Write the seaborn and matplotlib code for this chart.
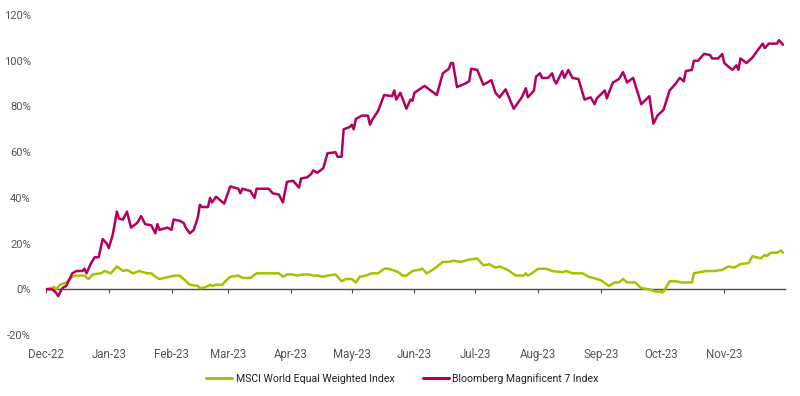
import pandas as pd
import matplotlib.pyplot as plt
import matplotlib.dates as mdates
import seaborn as sns

# Datos (días desde 2022-12-01, rentabilidad acumulada en %)
start = pd.Timestamp('2022-12-01')
names = ['MSCI World Equal Weighted Index', 'Bloomberg Magnificent 7 Index']
colors = ['#a9c000', '#b3005e']

mag_days = [0, 3, 5, 6, 8, 10, 13, 15, 18, 19, 20, 22, 24, 26, 28, 30, 31, 33, 35, 36,
            38, 40, 42, 45, 47, 49, 52, 54, 55, 56, 60, 62, 63, 66, 68, 69, 71, 73, 75, 76,
            77, 80, 81, 82, 84, 88, 91, 95, 96, 97, 101, 103, 104, 110, 112, 115, 117, 119, 122, 125,
            126, 129, 131, 132, 134, 137, 139, 143, 144, 146, 147, 150, 151, 152, 153, 156, 159, 160, 161, 164,
            167, 171, 172, 173, 175, 178, 180, 181, 182, 187, 193, 196, 199, 200, 201, 203, 207, 209, 210, 213,
            216, 220, 222, 224, 227, 231, 235, 237, 238, 241, 242, 244, 245, 248, 250, 251, 252, 255, 256, 258,
            260, 263, 266, 269, 271, 272, 276, 277, 278, 280, 283, 285, 287, 290, 294, 298, 300, 302, 305, 308,
            311, 313, 315, 316, 319, 320, 322, 325, 328, 329, 332, 334, 335, 339, 341, 342, 343, 346, 349, 351,
            354, 355, 357, 361, 362, 363, 364]
mag_vals = [0, 0, -1.5, -3, 0.5, 1.5, 7, 8, 8, 9, 7, 11, 14, 14, 22, 20, 18, 24, 34, 31,
            30.5, 34, 27, 29, 32, 28.5, 28, 24.5, 28.5, 26, 27, 26, 30.5, 30, 29, 27, 24.5, 26, 31.5, 37,
            36, 36, 40, 38, 40.5, 37.5, 45, 44, 42, 44, 43, 40, 44, 44, 42, 41.5, 38, 47, 47.5, 44.5,
            48.5, 49, 50.5, 52, 51, 53, 59.5, 60, 58, 58, 70, 71, 72, 70, 74.5, 76, 76, 72, 74, 78,
            85, 84.5, 87, 83, 86, 79, 83, 82.5, 86, 89, 85, 94.5, 96.5, 99, 99, 88.5, 90, 91, 96.5, 96,
            89.5, 91.5, 86, 84, 87.5, 79, 84, 88, 84, 87, 93, 94.5, 92.5, 92.5, 94.5, 91.5, 90, 95.5, 92.5, 96,
            92.5, 92, 83, 84, 81, 83.5, 87, 83.5, 86, 90.5, 92, 95, 90.5, 92.5, 81, 84.5, 72.5, 76, 78.5, 87,
            90, 92.5, 91, 95.5, 96, 100, 100, 103, 102.5, 101, 101, 103, 99, 96, 98, 96, 101, 99, 101.5, 104,
            107.5, 105.5, 107.5, 107.5, 109, 108, 107]

msci_days = [0, 4, 5, 7, 10, 13, 15, 19, 21, 23, 27, 29, 32, 35, 38, 40, 43, 46, 50, 52,
             54, 56, 61, 64, 66, 68, 71, 75, 76, 79, 81, 82, 84, 87, 88, 91, 95, 97, 101, 104,
             107, 110, 115, 117, 119, 122, 124, 127, 130, 132, 134, 137, 139, 143, 146, 148, 151, 153, 155, 158,
             161, 164, 167, 169, 171, 174, 176, 178, 181, 184, 186, 188, 191, 196, 199, 201, 205, 209, 213, 216,
             219, 222, 224, 228, 232, 236, 237, 238, 240, 243, 247, 250, 255, 257, 260, 265, 268, 270, 274, 278,
             281, 283, 285, 287, 291, 294, 298, 301, 305, 308, 311, 314, 319, 320, 323, 326, 330, 334, 337, 340,
             343, 347, 349, 353, 355, 356, 358, 361, 363, 364]
msci_vals = [0, 1, 0, 2, 3, 5.5, 6, 6, 4.5, 6.5, 7, 8, 7, 10, 8, 8.5, 7, 8, 7, 7,
             5.5, 4.5, 5.5, 6, 6, 4.5, 2, 1.5, 0.5, 1, 2, 1.5, 2, 2, 3, 5.5, 6, 5, 5, 7,
             7, 7, 7, 5.5, 6.5, 6.5, 6, 6.5, 6.5, 6, 6, 5.5, 6, 6.5, 3.5, 4.5, 4.5, 3, 5.5, 6,
             7, 7, 9, 9, 8.5, 7.5, 6, 6, 8, 8.5, 9, 7, 8.5, 12, 12, 12.5, 12, 13, 13.5, 10.5,
             11, 9.5, 10, 8.5, 6, 6, 7, 6, 7, 9, 9, 8, 7.5, 8, 7, 7, 5.5, 5, 4, 1.5,
             3, 3, 4.5, 3, 3, 0.5, 0, -1, -1, 3.5, 3.5, 3, 3, 7, 7.5, 8, 8, 8.5, 10, 9.5,
             11, 11.5, 14.5, 13.5, 15, 14.5, 16, 16, 17, 16]

df = pd.concat([
    pd.DataFrame({'Fecha': start + pd.to_timedelta(msci_days, unit='D'), 'Valor': msci_vals, 'Indice': names[0]}),
    pd.DataFrame({'Fecha': start + pd.to_timedelta(mag_days, unit='D'), 'Valor': mag_vals, 'Indice': names[1]}),
])

sns.set_theme(style='white')
plt.rcParams['font.family'] = ['Roboto', 'DejaVu Sans']

fig = plt.figure(figsize=(8, 3.96), dpi=100)
ax = fig.add_axes([0.0575, 0.154, 0.9235, 0.808])

sns.lineplot(data=df, x='Fecha', y='Valor', hue='Indice', hue_order=names,
             palette=colors, linewidth=1.8, estimator=None, ax=ax, legend=False)

ax.set_xlim(start, start + pd.Timedelta(days=364.9))
ax.set_ylim(-20, 120)
ax.set_yticks(range(-20, 121, 20))
ax.set_yticklabels([f'{v}%' for v in range(-20, 121, 20)])
ax.set_xlabel('')
ax.set_ylabel('')

for s in ['top', 'right', 'left']:
    ax.spines[s].set_visible(False)
ax.spines['bottom'].set_position(('data', 0))
ax.spines['bottom'].set_color('#4a4a4a')
ax.spines['bottom'].set_linewidth(1.0)
ax.spines['bottom'].set_zorder(1)

ax.xaxis.set_major_locator(mdates.MonthLocator())
ax.tick_params(axis='x', direction='out', length=3, width=0.8, color='#4a4a4a',
               labelbottom=False, bottom=True)
ax.tick_params(axis='y', length=0, pad=11, labelsize=8, labelcolor='#555555')

# Etiquetas de meses en la parte inferior
sec = ax.secondary_xaxis('bottom')
sec.xaxis.set_major_locator(mdates.MonthLocator())
sec.xaxis.set_major_formatter(mdates.DateFormatter('%b-%y'))
sec.tick_params(length=0, pad=9, labelsize=8.3, labelcolor='#555555')
sec.spines['bottom'].set_visible(False)

handles = [plt.Line2D([], [], color=c, lw=2.2) for c in colors]
fig.legend(handles, names, loc='center', bbox_to_anchor=(0.503, 0.045), ncol=2,
           frameon=False, fontsize=7.6, handlelength=2.5, handletextpad=0.3,
           columnspacing=2.7, labelcolor='#222222')

plt.savefig('out.png', dpi=100)
